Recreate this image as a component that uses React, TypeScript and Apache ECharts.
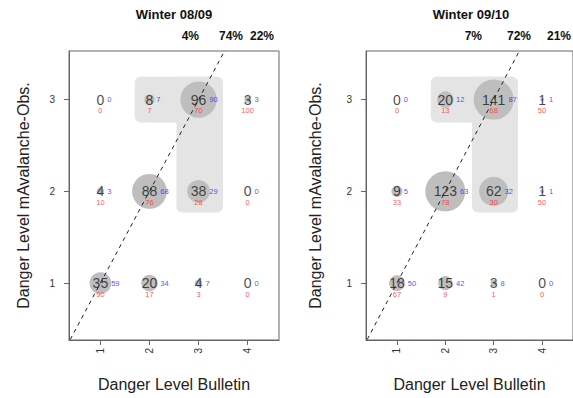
import React, { useEffect, useRef } from "react";
import * as echarts from "echarts";

// Categories
const X_LEVELS = [1, 2, 3, 4]; // Danger Level Bulletin
const Y_LEVELS = [1, 2, 3]; // Danger Level mAvalanche-Obs. (row order)

// Winter 08/09 — rows: y=1, y=2, y=3 ; columns x=1..4
const W0809_COUNT = [[35, 20, 4, 0], [4, 88, 38, 0], [0, 8, 96, 3]];
const W0809_BLUE = [[59, 34, 7, 0], [3, 68, 29, 0], [0, 7, 90, 3]];
const W0809_RED = [[90, 17, 3, 0], [10, 76, 28, 0], [0, 7, 70, 100]];
const W0809_PCT = ["4%", "74%", "22%"];

// Winter 09/10
const W0910_COUNT = [[18, 15, 3, 0], [9, 123, 62, 1], [0, 20, 141, 1]];
const W0910_BLUE = [[50, 42, 8, 0], [5, 63, 32, 1], [0, 12, 87, 1]];
const W0910_RED = [[67, 9, 1, 0], [33, 78, 30, 50], [0, 13, 68, 50]];
const W0910_PCT = ["7%", "72%", "21%"];

const TITLES = ["Winter 08/09", "Winter 09/10"];
// shaded region in data units: [x1, x2, y1, y2]
const SHADE = [[1.7, 3.5, 2.75, 3.25], [2.55, 3.5, 1.77, 3.25]];

const FONT = "Liberation Sans, Arial, Helvetica, sans-serif";

const PANELS = [
  { count: W0809_COUNT, blue: W0809_BLUE, red: W0809_RED, pct: W0809_PCT, left: 69 },
  { count: W0910_COUNT, blue: W0910_BLUE, red: W0910_RED, pct: W0910_PCT, left: 366 },
];
const GRID_W = 210;
const GRID_TOP = 51;
const GRID_H = 289;
const PCT_OFFSETS = [[-80, -36, -5], [-94, -45, -5]];

export default function App() {
  const ref = useRef<HTMLDivElement>(null);
  useEffect(() => {
    if (!ref.current) return;
    const chart = echarts.init(ref.current, null, { renderer: "svg" });

    const grids: any[] = [];
    const xAxes: any[] = [];
    const yAxes: any[] = [];
    const series: any[] = [];
    const graphics: any[] = [];

    PANELS.forEach((p, pi) => {
      grids.push({ left: p.left, top: GRID_TOP, width: GRID_W, height: GRID_H, show: true, borderColor: "#666", borderWidth: 1, backgroundColor: "transparent" });
      xAxes.push({
        type: "value", gridIndex: pi, min: 0.36, max: 4.64,
        axisLine: { show: true, lineStyle: { color: "#666" } },
        axisTick: { show: true, customValues: X_LEVELS, length: 5, lineStyle: { color: "#666" } },
        axisLabel: { show: true, customValues: X_LEVELS, rotate: 90, margin: 8, fontSize: 10, color: "#333", fontFamily: FONT },
        splitLine: { show: false },
        name: "Danger Level Bulletin", nameLocation: "middle", nameGap: 36,
        nameTextStyle: { fontSize: 16, color: "#222", fontFamily: FONT },
      });
      yAxes.push({
        type: "value", gridIndex: pi, min: 0.38, max: 3.53,
        axisLine: { show: true, lineStyle: { color: "#666" } },
        axisTick: { show: true, customValues: Y_LEVELS, length: 5, lineStyle: { color: "#666" } },
        axisLabel: { show: true, customValues: Y_LEVELS, margin: 14, fontSize: 10, color: "#333", fontFamily: FONT },
        splitLine: { show: false },
        name: "Danger Level mAvalanche-Obs.", nameLocation: "middle", nameGap: pi === 0 ? 38 : 43,
        nameTextStyle: { fontSize: 16, color: "#222", fontFamily: FONT },
      });

      const pts: number[][] = [];
      Y_LEVELS.forEach((y, ri) => {
        X_LEVELS.forEach((x, ci) => {
          pts.push([x, y, p.count[ri][ci], p.blue[ri][ci], p.red[ri][ci]]);
        });
      });

      series.push({
        type: "custom", xAxisIndex: pi, yAxisIndex: pi, z: 1, silent: true,
        encode: { x: [0, 1], y: [2, 3] },
        data: SHADE,
        renderItem: (params: any, api: any) => {
          const a = api.coord([api.value(0), api.value(3)]);
          const b = api.coord([api.value(1), api.value(2)]);
          return { type: "rect", shape: { x: a[0], y: a[1], width: b[0] - a[0], height: b[1] - a[1], r: 6 }, style: { fill: "#e4e4e4" } };
        },
      });
      series.push({
        type: "scatter", xAxisIndex: pi, yAxisIndex: pi, z: 2, silent: true,
        data: pts.map((d) => [d[0], d[1], d[2]]),
        symbolSize: (v: number[]) => Math.min(40, 3.7 * Math.sqrt(v[2])),
        itemStyle: { color: "#bebebe", opacity: 1 },
      });
      series.push({
        type: "line", xAxisIndex: pi, yAxisIndex: pi, z: 3, silent: true, clip: true,
        data: [[0, 0], [5, 5]], symbol: "none",
        lineStyle: { color: "#222", width: 1, type: [4, 4] },
      });
      series.push({
        type: "scatter", xAxisIndex: pi, yAxisIndex: pi, z: 4, silent: true,
        data: pts.map((d) => [d[0], d[1], d[2]]),
        symbolSize: 1, itemStyle: { color: "transparent" },
        label: { show: true, position: "inside", formatter: (pp: any) => String(pp.value[2]), fontSize: 14, lineHeight: 13, color: "#1a1a1a", fontFamily: FONT },
      });
      series.push({
        type: "scatter", xAxisIndex: pi, yAxisIndex: pi, z: 4, silent: true,
        data: pts.map((d) => ({
          value: [d[0], d[1], d[3]],
          label: { offset: [String(d[2]).length * 3.9 + 3, 0] },
        })),
        symbolSize: 1, itemStyle: { color: "transparent" },
        label: { show: true, position: "inside", align: "left", formatter: (pp: any) => String(pp.value[2]), fontSize: 7.5, lineHeight: 8, color: "#2424ff", fontFamily: FONT },
      });
      series.push({
        type: "scatter", xAxisIndex: pi, yAxisIndex: pi, z: 4, silent: true,
        data: pts.map((d) => [d[0], d[1], d[4]]),
        symbolSize: 1, itemStyle: { color: "transparent" },
        label: { show: true, position: "inside", offset: [0, 11], formatter: (pp: any) => String(pp.value[2]), fontSize: 7.5, lineHeight: 8, color: "#ff2a2a", fontFamily: FONT },
      });

      const right = p.left + GRID_W;
      graphics.push({
        type: "text", x: p.left + GRID_W / 2, y: 14,
        style: { text: TITLES[pi], font: `bold 13px ${FONT}`, fill: "#111", align: "center", verticalAlign: "middle" },
      });
      p.pct.forEach((t, k) => {
        graphics.push({
          type: "text", x: right + PCT_OFFSETS[pi][k], y: 36,
          style: { text: t, font: `bold 12px ${FONT}`, fill: "#111", align: "right", verticalAlign: "middle" },
        });
      });
    });

    chart.setOption({
      animation: false,
      backgroundColor: "#ffffff",
      grid: grids,
      xAxis: xAxes,
      yAxis: yAxes,
      series,
      graphic: graphics,
    });
    return () => chart.dispose();
  }, []);
  return <div ref={ref} style={{ position: "fixed", left: 0, top: 0, width: 573, height: 398 }} />;
}
